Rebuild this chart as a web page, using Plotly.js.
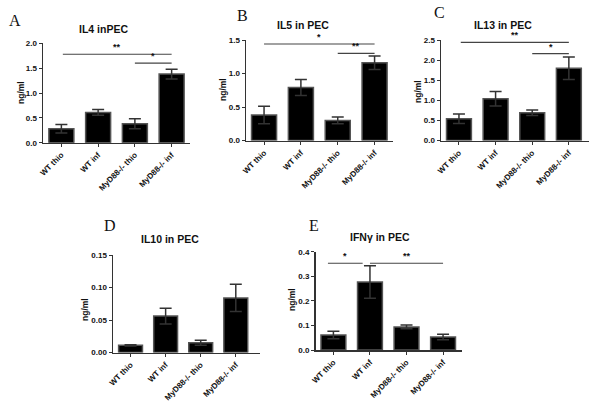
<!DOCTYPE html>
<html>
<head>
<meta charset="utf-8">
<script src="https://cdn.plot.ly/plotly-3.0.1.min.js"></script>
<style>html,body{margin:0;padding:0;background:#fff;}#chart{width:600px;height:409px;}</style>
</head>
<body>
<div id="chart"></div>
<script>
// ---- data ----
const categories = ['WT thio', 'WT inf', 'MyD88-/- thio', 'MyD88-/- inf'];

const il4 = [0.28, 0.61, 0.38, 1.38];
const il4Err = [0.085, 0.06, 0.10, 0.10];

const il5 = [0.38, 0.79, 0.30, 1.16];
const il5Err = [0.13, 0.12, 0.05, 0.10];

const il13 = [0.54, 1.04, 0.69, 1.80];
const il13Err = [0.12, 0.18, 0.07, 0.28];

const il10 = [0.011, 0.056, 0.015, 0.084];
const il10Err = [0.001, 0.012, 0.004, 0.021];

const ifng = [0.061, 0.277, 0.094, 0.053];
const ifngErr = [0.015, 0.066, 0.008, 0.011];

// significance brackets: [from category index, to category index, y value, label]
const sigA = [[0.04, 3, 1.78, '**'], [2, 3, 1.60, '*']];
const sigB = [[0, 3, 1.44, '*'], [2, 3, 1.30, '**']];
const sigC = [[0.05, 3, 2.44, '**'], [2, 3, 2.16, '*']];
const sigD = [];
const sigE = [[-0.15, 0.8, 0.353, '*'], [1, 3, 0.353, '**']];

const titles = ['IL4 inPEC', 'IL5 in PEC', 'IL13 in PEC', 'IL10 in PEC', 'IFNγ in PEC'];
const letters = ['A', 'B', 'C', 'D', 'E'];

// ---- layout geometry ----
const W = 600, H = 409;
const px = v => v / W;
const py = v => 1 - v / H;

const panels = [
  {vals: il4, err: il4Err, sig: sigA, xr: [-0.5, 3.5], yr: [0, 2.0], dt: 0.5, fmt: '.1f',
   xd: [43, 190], yd: [142.7, 43.3], title: [103, 29], letter: [15, 20], ylab: [21, 93]},
  {vals: il5, err: il5Err, sig: sigB, xr: [-0.49, 3.5], yr: [0, 1.5], dt: 0.5, fmt: '.1f',
   xd: [246, 393], yd: [140.5, 40], title: [303, 25], letter: [242, 15], ylab: [223, 90]},
  {vals: il13, err: il13Err, sig: sigC, xr: [-0.49, 3.55], yr: [0, 2.5], dt: 0.5, fmt: '.1f',
   xd: [441, 589], yd: [140.5, 40], title: [503, 25], letter: [439, 13], ylab: [418, 92]},
  {vals: il10, err: il10Err, sig: sigD, xr: [-0.5, 3.69], yr: [0, 0.15], dt: 0.05, fmt: '.2f',
   xd: [113, 260], yd: [352.5, 255], title: [170, 239], letter: [110, 225], ylab: [85, 310]},
  {vals: ifng, err: ifngErr, sig: sigE, xr: [-0.49, 3.51], yr: [0, 0.4], dt: 0.1, fmt: '.1f',
   xd: [315.5, 461.7], yd: [350, 251.7], title: [380, 237], letter: [314, 225], ylab: [292, 300]}
];

const FONT = 'Liberation Sans, Arial, sans-serif';
const SERIF = 'Liberation Serif, Times New Roman, serif';
const AX = '#333';

const data = [];
const layout = {
  width: W, height: H,
  margin: {l: 0, r: 0, t: 0, b: 0},
  paper_bgcolor: '#fff', plot_bgcolor: '#fff',
  showlegend: false,
  bargap: 0.32,
  font: {family: FONT, color: '#111'},
  shapes: [], annotations: []
};

panels.forEach((p, i) => {
  const n = i === 0 ? '' : String(i + 1);
  const xa = 'x' + n, ya = 'y' + n;
  data.push({
    type: 'bar', x: categories, y: p.vals, xaxis: xa, yaxis: ya,
    marker: {color: '#000', line: {color: '#555', width: 1.5}},
    error_y: {type: 'data', array: p.err, visible: true, color: '#333', thickness: 1.5, width: 6},
    hoverinfo: 'skip'
  });
  layout['xaxis' + n] = {
    domain: [px(p.xd[0]), px(p.xd[1])], anchor: ya, range: p.xr,
    type: 'category', showline: true, linecolor: AX, linewidth: 1.5,
    ticks: 'outside', ticklen: 3, tickcolor: AX, tickwidth: 1,
    tickangle: -45, tickfont: {size: 8, family: FONT, color: '#111', weight: 'bold'},
    showgrid: false, zeroline: false, fixedrange: true
  };
  layout['yaxis' + n] = {
    domain: [py(p.yd[0]), py(p.yd[1])], anchor: xa, range: p.yr,
    dtick: p.dt, tick0: 0, tickformat: p.fmt,
    showline: true, linecolor: AX, linewidth: 1.5,
    ticks: 'outside', ticklen: 3, tickcolor: AX, tickwidth: 1,
    tickfont: {size: 8, family: FONT, color: '#111', weight: 'bold'},
    showgrid: false, zeroline: false, fixedrange: true
  };
  // significance brackets
  p.sig.forEach(s => {
    layout.shapes.push({type: 'line', xref: xa, yref: ya, x0: s[0], x1: s[1], y0: s[2], y1: s[2],
      line: {color: '#444', width: 1.2}});
    layout.annotations.push({xref: xa, yref: ya, x: (s[0] + s[1]) / 2, y: s[2], text: s[3],
      showarrow: false, yanchor: 'bottom', yshift: 0,
      font: {size: 9, family: FONT, color: '#111', weight: 'bold'}});
  });
  // panel title
  layout.annotations.push({xref: 'paper', yref: 'paper', x: px(p.title[0]), y: py(p.title[1]),
    text: titles[i], showarrow: false, xanchor: 'center', yanchor: 'middle',
    font: {size: 10.5, family: FONT, color: '#111', weight: 'bold'}});
  // panel letter
  layout.annotations.push({xref: 'paper', yref: 'paper', x: px(p.letter[0]), y: py(p.letter[1]),
    text: letters[i], showarrow: false, xanchor: 'center', yanchor: 'middle',
    font: {size: 16, family: SERIF, color: '#111'}});
  // y axis label
  layout.annotations.push({xref: 'paper', yref: 'paper', x: px(p.ylab[0]), y: py(p.ylab[1]),
    text: 'ng/ml', showarrow: false, textangle: -90, xanchor: 'center', yanchor: 'middle',
    font: {size: 8.5, family: FONT, color: '#111', weight: 'bold'}});
});

Plotly.newPlot('chart', data, layout, {staticPlot: true, displayModeBar: false});
</script>
</body>
</html>
